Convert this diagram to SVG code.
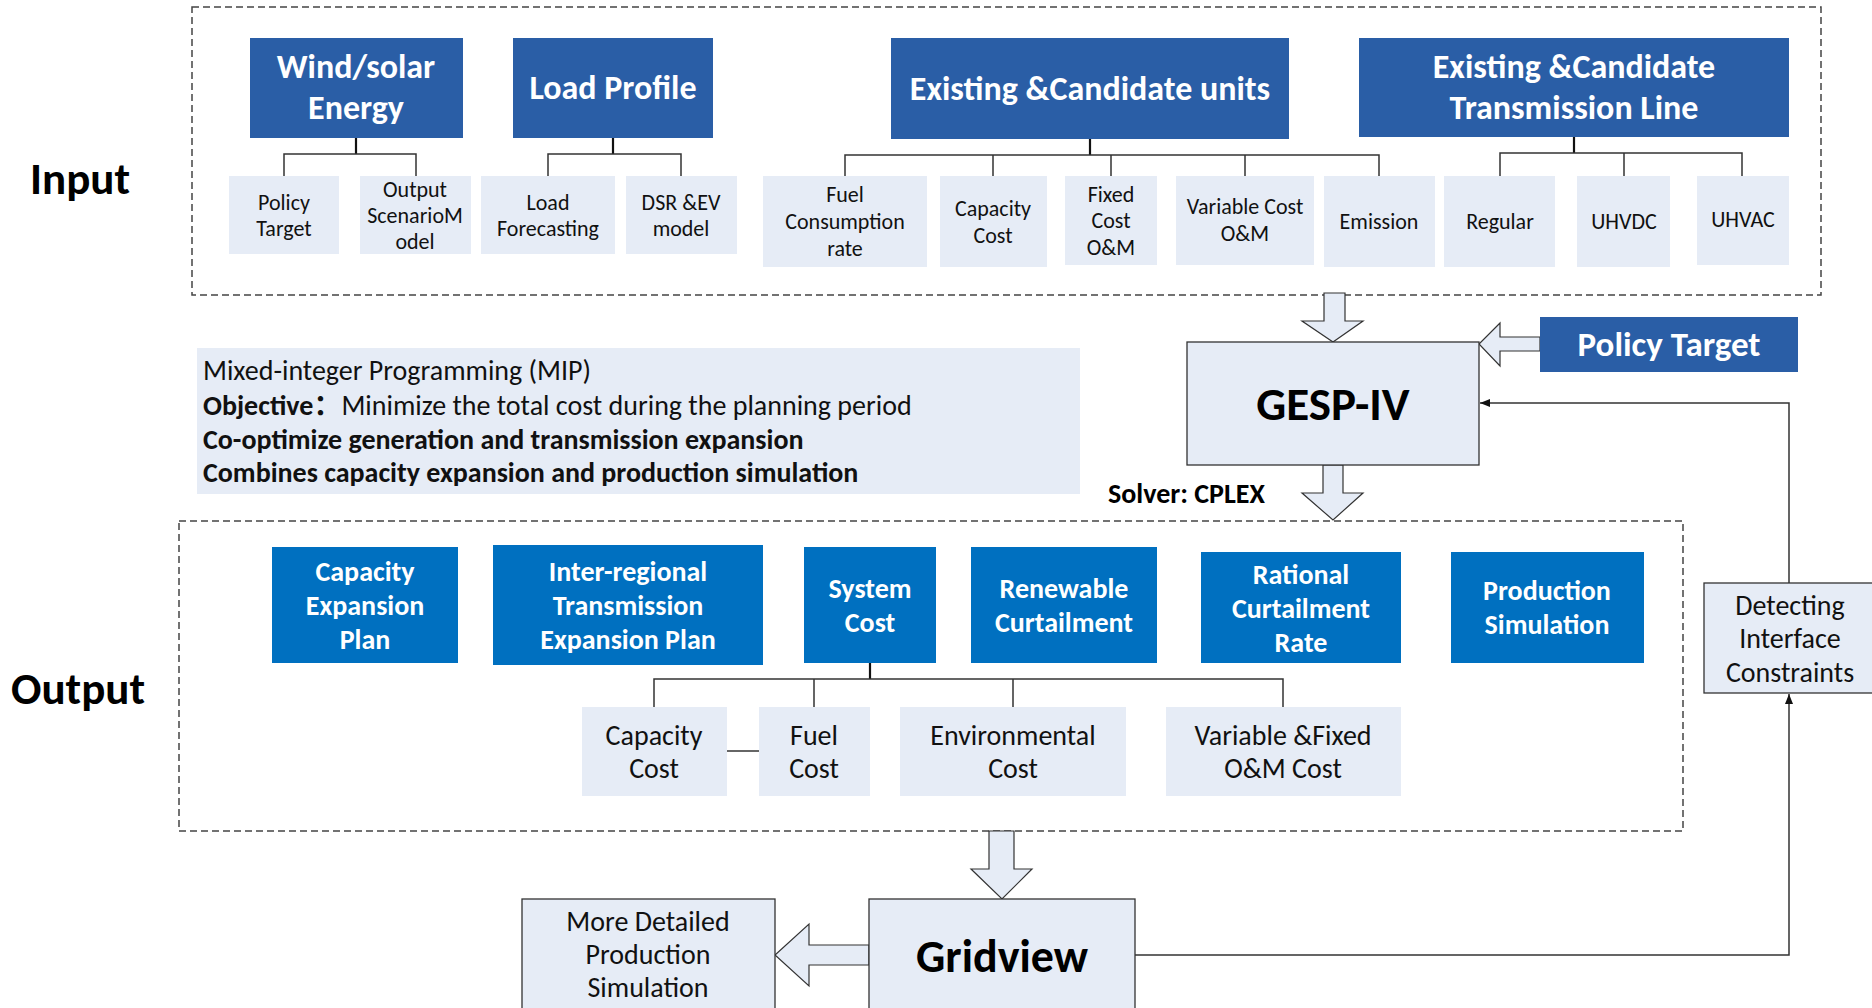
<svg xmlns="http://www.w3.org/2000/svg" width="1872" height="1008" viewBox="0 0 1872 1008">
<defs>
<style>
text{font-family:Carlito,Lato,"Noto Sans CJK SC",sans-serif;}
.dash{fill:none;stroke:#444;stroke-width:1.5;stroke-dasharray:7 4;}
.tb{fill:#2A5EA6;}
.ob{fill:#0070C0;}
.lt{fill:#E6ECF6;}
.lts{fill:#E6ECF6;stroke:#333;stroke-width:1.3;}
.wt{fill:#fff;font-weight:bold;text-anchor:middle;}
.t31{font-size:34px;}
.t26{font-size:28px;}
.s20{font-size:22px;fill:#111;text-anchor:middle;}
.s25{font-size:28px;fill:#111;text-anchor:middle;}
.big{font-weight:bold;fill:#000;}
.ln{fill:none;stroke:#333;stroke-width:1.5;}
.stem{fill:none;stroke:#111;stroke-width:2.2;}
.blk{fill:#E6ECF6;stroke:#333;stroke-width:1.2;}
</style>
<marker id="ah" markerWidth="10" markerHeight="8" refX="10" refY="4" orient="auto" markerUnits="userSpaceOnUse">
<path d="M0,0 L10,4 L0,8 Z" fill="#111"/>
</marker>
</defs>
<rect width="1872" height="1008" fill="#fff"/>

<!-- dashed region boxes -->
<rect class="dash" x="192" y="7" width="1629" height="288"/>
<rect class="dash" x="179" y="521" width="1504" height="310"/>

<text x="30" y="194" class="big" font-size="45">Input</text>
<text x="11" y="704" class="big" font-size="45">Output</text>

<!-- connectors -->
<g id="connectors">
<path class="stem" d="M356,138 V154"/>
<path class="ln" d="M284,176 V154 H416 V176"/>
<path class="stem" d="M613,138 V154"/>
<path class="ln" d="M548,176 V154 H681 V176"/>
<path class="stem" d="M1090,139 V155"/>
<path class="ln" d="M845,176 V155 H1379 V176 M993,155 V176 M1111,155 V176 M1245,155 V176"/>
<path class="stem" d="M1574,137 V153"/>
<path class="ln" d="M1500,176 V153 H1742 V176 M1624,153 V176"/>
<path class="stem" d="M870,663 V679"/>
<path class="ln" d="M654,707 V679 H1283 V707 M814,679 V707 M1013,679 V707"/>
<path class="ln" d="M727,751 H759"/>
<path class="ln" d="M1135,955 H1789 V694" marker-end="url(#ah)"/>
<path class="ln" d="M1789,583 V403 H1480" marker-end="url(#ah)"/>
<polygon class="blk" points="1324,293 1345,293 1345,321 1363,321 1333,342 1302,321 1324,321"/>
<polygon class="blk" points="1323,465 1343,465 1343,493 1363,493 1333,520 1302,493 1323,493"/>
<polygon class="blk" points="1540,337 1500,337 1500,323 1479,344 1500,366 1500,351 1540,351"/>
<polygon class="blk" points="989,831 1014,831 1014,869 1032,869 1002,899 971,869 989,869"/>
<polygon class="blk" points="869,945 809,945 809,924 775,955 809,986 809,965 869,965"/>
</g>

<!-- input top blue boxes -->
<g id="wind"><rect class="tb" x="250" y="38" width="213" height="100"/>
<text class="wt t31"><tspan x="356" y="78">Wind/solar</tspan><tspan x="356" y="119">Energy</tspan></text></g>
<g id="load"><rect class="tb" x="513" y="38" width="200" height="100"/>
<text class="wt t31" x="613" y="99">Load Profile</text></g>
<g id="units"><rect class="tb" x="891" y="38" width="398" height="101"/>
<text class="wt t31" x="1090" y="100">Existing &amp;Candidate units</text></g>
<g id="trans"><rect class="tb" x="1359" y="38" width="430" height="99"/>
<text class="wt t31"><tspan x="1574" y="78">Existing &amp;Candidate</tspan><tspan x="1574" y="119">Transmission Line</tspan></text></g>

<!-- input sub boxes -->
<g id="policy1"><rect class="lt" x="229" y="176" width="110" height="78"/>
<text class="s20"><tspan x="284" y="210">Policy</tspan><tspan x="284" y="236">Target</tspan></text></g>
<g id="scen"><rect class="lt" x="360" y="176" width="111" height="78"/>
<text class="s20"><tspan x="415" y="197">Output</tspan><tspan x="415" y="223">ScenarioM</tspan><tspan x="415" y="249">odel</tspan></text></g>
<g id="lfc"><rect class="lt" x="481" y="176" width="134" height="78"/>
<text class="s20"><tspan x="548" y="210">Load</tspan><tspan x="548" y="236">Forecasting</tspan></text></g>
<g id="dsr"><rect class="lt" x="626" y="176" width="111" height="78"/>
<text class="s20"><tspan x="681" y="210">DSR &amp;EV</tspan><tspan x="681" y="236">model</tspan></text></g>
<g id="fuel"><rect class="lt" x="763" y="176" width="164" height="91"/>
<text class="s20"><tspan x="845" y="202">Fuel</tspan><tspan x="845" y="229">Consumption</tspan><tspan x="845" y="256">rate</tspan></text></g>
<g id="capc"><rect class="lt" x="940" y="176" width="107" height="91"/>
<text class="s20"><tspan x="993" y="216">Capacity</tspan><tspan x="993" y="243">Cost</tspan></text></g>
<g id="fixed"><rect class="lt" x="1065" y="176" width="92" height="89"/>
<text class="s20"><tspan x="1111" y="202">Fixed</tspan><tspan x="1111" y="228">Cost</tspan><tspan x="1111" y="255">O&amp;M</tspan></text></g>
<g id="varc"><rect class="lt" x="1176" y="176" width="138" height="89"/>
<text class="s20"><tspan x="1245" y="214">Variable Cost</tspan><tspan x="1245" y="241">O&amp;M</tspan></text></g>
<g id="emis"><rect class="lt" x="1324" y="176" width="111" height="91"/>
<text class="s20" x="1379" y="229">Emission</text></g>
<g id="reg"><rect class="lt" x="1444" y="176" width="111" height="91"/>
<text class="s20" x="1500" y="229">Regular</text></g>
<g id="uhvdc"><rect class="lt" x="1577" y="176" width="93" height="91"/>
<text class="s20" x="1624" y="229">UHVDC</text></g>
<g id="uhvac"><rect class="lt" x="1697" y="176" width="92" height="89"/>
<text class="s20" x="1743" y="227">UHVAC</text></g>

<!-- MIP description -->
<g id="mip"><rect class="lt" x="197" y="348" width="883" height="146"/>
<text font-size="28" fill="#111"><tspan x="203" y="380">Mixed-integer Programming (MIP)</tspan>
<tspan x="203" y="415"><tspan font-weight="bold">Objective：</tspan>Minimize the total cost during the planning period</tspan>
<tspan x="203" y="449" font-weight="bold">Co-optimize generation and transmission expansion</tspan>
<tspan x="203" y="482" font-weight="bold">Combines capacity expansion and production simulation</tspan></text></g>

<!-- GESP-IV -->
<g id="gesp"><rect class="lts" x="1187" y="342" width="292" height="123"/>
<text class="big" font-size="47" text-anchor="middle" x="1333" y="420">GESP-IV</text></g>
<g id="policy2"><rect class="tb" x="1540" y="317" width="258" height="55"/>
<text class="wt" font-size="35" x="1669" y="356">Policy Target</text></g>
<text class="big" font-size="28" x="1108" y="503">Solver: CPLEX</text>

<!-- output blue boxes -->
<g id="cep"><rect class="ob" x="272" y="547" width="186" height="116"/>
<text class="wt t26"><tspan x="365" y="581">Capacity</tspan><tspan x="365" y="615">Expansion</tspan><tspan x="365" y="649">Plan</tspan></text></g>
<g id="irt"><rect class="ob" x="493" y="545" width="270" height="120"/>
<text class="wt t26"><tspan x="628" y="581">Inter-regional</tspan><tspan x="628" y="615">Transmission</tspan><tspan x="628" y="649">Expansion Plan</tspan></text></g>
<g id="sys"><rect class="ob" x="804" y="547" width="132" height="116"/>
<text class="wt t26"><tspan x="870" y="598">System</tspan><tspan x="870" y="632">Cost</tspan></text></g>
<g id="ren"><rect class="ob" x="971" y="547" width="186" height="116"/>
<text class="wt t26"><tspan x="1064" y="598">Renewable</tspan><tspan x="1064" y="632">Curtailment</tspan></text></g>
<g id="rat"><rect class="ob" x="1201" y="552" width="200" height="111"/>
<text class="wt t26"><tspan x="1301" y="584">Rational</tspan><tspan x="1301" y="618">Curtailment</tspan><tspan x="1301" y="652">Rate</tspan></text></g>
<g id="prod"><rect class="ob" x="1451" y="552" width="193" height="111"/>
<text class="wt t26"><tspan x="1547" y="600">Production</tspan><tspan x="1547" y="634">Simulation</tspan></text></g>

<!-- output cost boxes -->
<g id="oc1"><rect class="lt" x="582" y="707" width="145" height="89"/>
<text class="s25"><tspan x="654" y="745">Capacity</tspan><tspan x="654" y="778">Cost</tspan></text></g>
<g id="oc2"><rect class="lt" x="759" y="707" width="111" height="89"/>
<text class="s25"><tspan x="814" y="745">Fuel</tspan><tspan x="814" y="778">Cost</tspan></text></g>
<g id="oc3"><rect class="lt" x="900" y="707" width="226" height="89"/>
<text class="s25"><tspan x="1013" y="745">Environmental</tspan><tspan x="1013" y="778">Cost</tspan></text></g>
<g id="oc4"><rect class="lt" x="1166" y="707" width="235" height="89"/>
<text class="s25"><tspan x="1283" y="745">Variable &amp;Fixed</tspan><tspan x="1283" y="778">O&amp;M Cost</tspan></text></g>

<!-- detecting -->
<g id="detect"><rect class="lts" x="1704" y="583" width="172" height="110"/>
<text class="s25"><tspan x="1790" y="615">Detecting</tspan><tspan x="1790" y="648">Interface</tspan><tspan x="1790" y="682">Constraints</tspan></text></g>

<!-- gridview -->
<g id="gridview"><rect class="lts" x="869" y="899" width="266" height="120"/>
<text class="big" font-size="46" text-anchor="middle" x="1002" y="972">Gridview</text></g>
<g id="detail"><rect class="lts" x="522" y="899" width="253" height="120"/>
<text class="s25" font-size="29"><tspan x="648" y="931">More Detailed</tspan><tspan x="648" y="964">Production</tspan><tspan x="648" y="997">Simulation</tspan></text></g>
</svg>
